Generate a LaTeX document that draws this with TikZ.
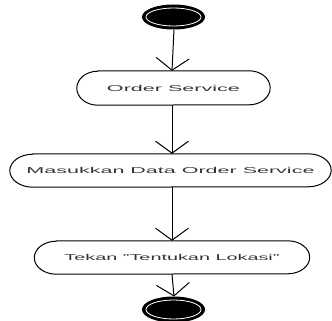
\documentclass[tikz,border=0pt]{standalone}
\usepackage{fontspec}
\setmainfont{Liberation Sans}
\usetikzlibrary{arrows.meta,shapes.geometric}
\newcommand{\widetext}[2]{\resizebox{#1}{\height}{#2}}
\newcommand{\capsule}[3]{% node name, end x-radius, half height
  \draw[line width=1pt]
    ([xshift=#2]#1.north west) -- ([xshift=-#2]#1.north east)
    arc[start angle=90, end angle=-90, x radius=#2, y radius=#3]
    -- ([xshift=#2]#1.south west)
    arc[start angle=270, end angle=90, x radius=#2, y radius=#3] -- cycle;}
\tikzset{
  act/.style={inner sep=0pt, minimum height=33pt,
    font=\fontsize{8.5}{10}\selectfont, text=black!80},
  flow/.style={line width=1pt, -{Straight Barb[length=12pt,width=33pt,line width=1pt]}},
  term/.style={ellipse, fill=black, draw=black, line width=1pt, inner sep=0pt,
    minimum width=62pt, minimum height=24pt},
  ring/.style={draw=white, line width=0.8pt}
}
\begin{document}
\begin{tikzpicture}[x=1pt,y=-1pt]
  \useasboundingbox (0,0) rectangle (332,321);
  \clip (0,0) rectangle (332,321);
  % start
  \node[term] (s) at (173.5,17) {};
  \draw[ring] (s.center) ellipse [x radius=27.5pt, y radius=9pt];
  % actions
  \node[act, minimum width=193pt, minimum height=34pt] (n1) at (173.5,88)
    {\widetext{133pt}{Order Service}};
  \capsule{n1}{21pt}{17pt}
  \node[act, minimum width=321pt] (n2) at (170.5,170.5)
    {\widetext{288pt}{Masukkan Data Order Service}};
  \capsule{n2}{23pt}{16.5pt}
  \node[act, minimum width=275pt] (n3) at (172,257.5)
    {\widetext{215pt}{Tekan "Tentukan Lokasi"}};
  \capsule{n3}{22pt}{16.5pt}
  % end
  \node[term, minimum height=25pt] (e) at (173.5,309.5) {};
  \draw[ring] (e.center) ellipse [x radius=27.5pt, y radius=9.5pt];
  % flows
  \draw[flow] ([xshift=0.5pt]s.south) -- ([xshift=-1.5pt]n1.north);
  \draw[flow] ([xshift=-1.5pt]n1.south) -- ([xshift=-1.5pt]n1.south |- n2.north);
  \draw[flow] (n3.north |- n2.south) -- (n3.north);
  \draw[flow] (n3.south) -- ([xshift=0.5pt]e.north);
\end{tikzpicture}
\end{document}
